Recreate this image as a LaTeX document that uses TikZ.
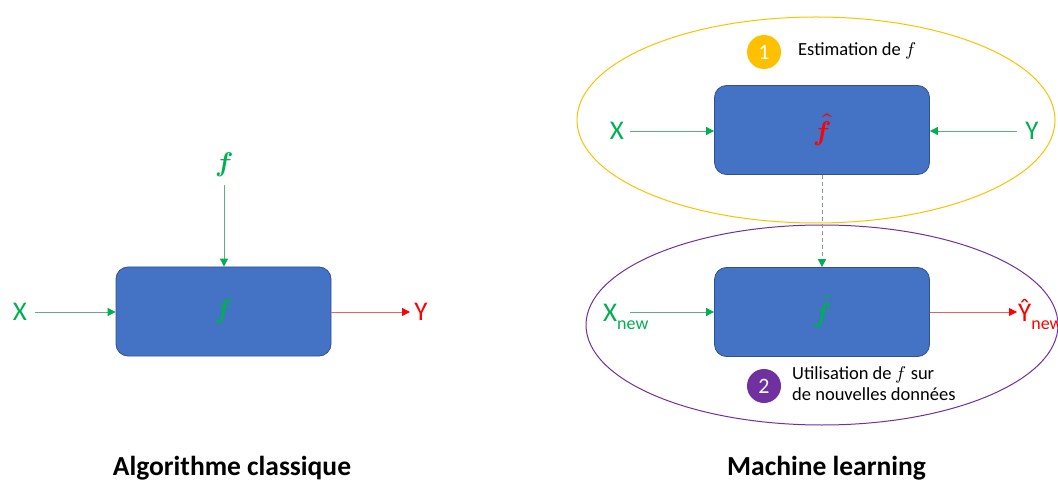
\documentclass[tikz,border=0pt]{standalone}
\usepackage{fontspec}
\usepackage{unicode-math}
\setmainfont{Carlito}
\setmathfont{Latin Modern Math}
\usetikzlibrary{arrows.meta}
\definecolor{boxblue}{HTML}{4472C4}
\definecolor{boxedge}{HTML}{2F528F}
\definecolor{mlgreen}{HTML}{00B050}
\definecolor{lgreen}{HTML}{5FAE80}
\definecolor{mlred}{HTML}{FF0000}
\definecolor{lred}{HTML}{E86060}
\definecolor{gold}{HTML}{FFC000}
\definecolor{purp}{HTML}{7030A0}
\definecolor{dashgray}{HTML}{7FA08C}
\newcommand{\fsym}{\symbfit{f}}
\tikzset{
  fbox/.style={draw=boxedge, line width=0.8pt, fill=boxblue, rounded corners=12pt,
     minimum width=215pt, minimum height=89pt, inner sep=0pt},
  lbl/.style={font=\fontsize{27}{27}\selectfont, inner sep=0pt},
  garrow/.style={draw=lgreen, line width=0.9pt, -{Triangle[length=8pt,width=8pt,color=mlgreen]}},
  rarrow/.style={draw=lred, line width=0.9pt, -{Triangle[length=8pt,width=8pt,color=mlred]}},
  numc/.style={circle, minimum size=34pt, inner sep=0pt, text=white, font=\fontsize{22}{22}\selectfont},
  note/.style={font=\fontsize{18.5}{21}\selectfont, inner sep=0pt, align=left},
  title/.style={font=\fontsize{27.5}{27.5}\selectfont\bfseries, inner sep=0pt}
}
\begin{document}
\begin{tikzpicture}[x=1pt,y=-1pt]
\useasboundingbox (0,0) rectangle (1058,481);
% left: classic algorithm
\node[fbox] (b0) at (223.5,311.5) {};
\node[lbl, text=mlgreen] (f0) at (b0.center) {$\fsym$};
\node[lbl, text=mlgreen] (ftop) at (224,165) {$\fsym$};
\node[lbl, text=mlgreen] (x0) at (20,312) {X};
\node[lbl, text=mlred] (y0) at (421,312) {Y};
\coordinate (ftopend) at (224,185);
\coordinate (x0end) at (35,312);
\coordinate (y0end) at (410,312);
\draw[garrow] (ftopend) -- (b0.north -| ftopend);
\draw[garrow] (x0end) -- (b0.west |- x0end);
\draw[rarrow] (b0.east |- y0end) -- (y0end);
\node[title] (t0) at (232,468) {Algorithme classique};
% right: machine learning
\draw[gold, line width=1pt] (816,120) ellipse [x radius=239pt, y radius=103pt];
\draw[purp, line width=1pt] (822,325) ellipse [x radius=236pt, y radius=100pt];
\node[fbox] (b1) at (822,130) {};
\node[lbl, text=mlred] (f1) at (b1.center) {$\hat{\fsym}$};
\node[fbox] (b2) at (822,312) {};
\node[lbl, text=mlgreen] (f2) at (b2.center) {$\hat{\fsym}$};
\node[lbl, text=mlgreen] (x1) at (617,131) {X};
\node[lbl, text=mlgreen] (y1) at (1032,131) {Y};
\coordinate (x1end) at (630,131);
\coordinate (y1end) at (1017,131);
\draw[garrow] (x1end) -- (b1.west |- x1end);
\draw[garrow] (y1end) -- (b1.east |- y1end);
\draw[dashgray, line width=0.9pt, dash pattern=on 4pt off 3pt, -{Triangle[length=8pt,width=8pt,color=mlgreen]}] (b1.south) -- (b2.north);
\node[lbl, text=mlgreen, anchor=base west] (x2) at (603,321) {X\raisebox{-0.3em}{\fontsize{18}{18}\selectfont new}};
\node[lbl, text=mlred, anchor=base west] (y2) at (1018,321) {Ŷ\raisebox{-0.3em}{\fontsize{18}{18}\selectfont new}};
\coordinate (x2end) at (630,312);
\coordinate (y2end) at (1017,312);
\draw[garrow] (x2end) -- (b2.west |- x2end);
\draw[rarrow] (b2.east |- y2end) -- (y2end);
\node[numc, fill=gold] (n1) at (764,52) {1};
\node[note, anchor=base west] (e1) at (798,56) {Estimation de $f$};
\node[numc, fill=purp] (n2) at (764,386) {2};
\node[note, anchor=north west] (e2) at (792,366) {Utilisation de $f$ sur\\de nouvelles données};
\node[title] (t1) at (826.5,468) {Machine learning};
\end{tikzpicture}
\end{document}
